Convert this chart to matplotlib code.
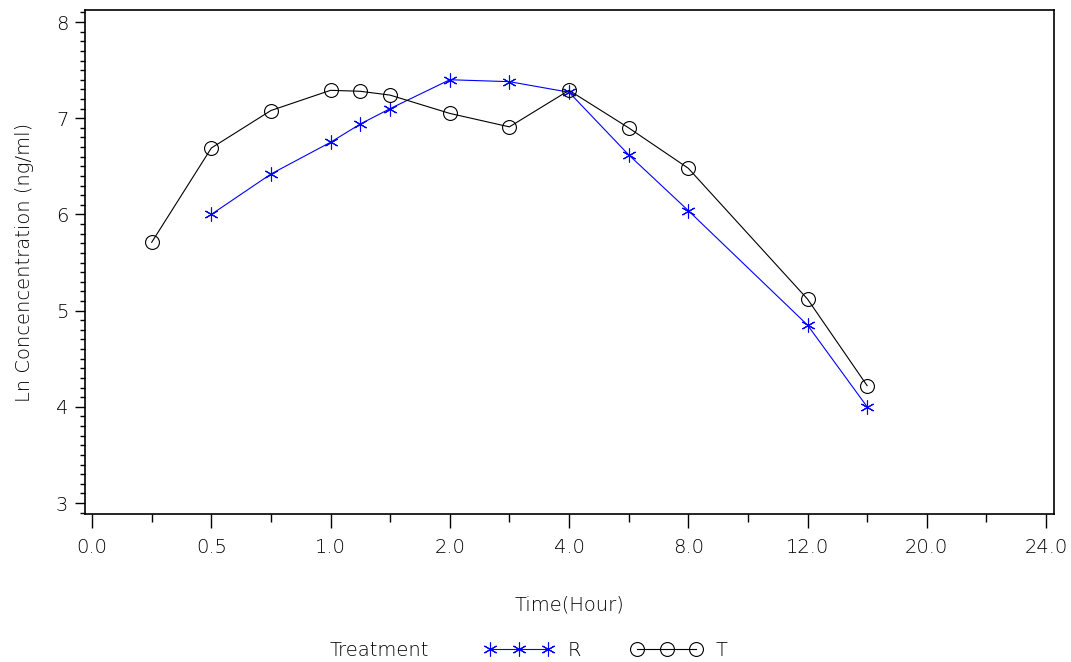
import numpy as np
import matplotlib
matplotlib.use('Agg')
import matplotlib.pyplot as plt
from matplotlib.lines import Line2D

# tempos de coleta (horas) e Ln da concentracao
tempo_t = [0.25, 0.5, 0.75, 1.0, 1.25, 1.5, 2.0, 3.0, 4.0, 6.0, 8.0, 12.0, 16.0]
conc_t = [5.71, 6.69, 7.08, 7.29, 7.28, 7.24, 7.05, 6.91, 7.29, 6.90, 6.48, 5.12, 4.22]

tempo_r = [0.5, 0.75, 1.0, 1.25, 1.5, 2.0, 3.0, 4.0, 6.0, 8.0, 12.0, 16.0]
conc_r = [6.00, 6.42, 6.75, 6.94, 7.10, 7.40, 7.38, 7.27, 6.62, 6.04, 4.85, 4.00]

ticks_x = [0.0, 0.5, 1.0, 2.0, 4.0, 8.0, 12.0, 20.0, 24.0]
ticks_x_menor = [0.25, 0.75, 1.5, 3.0, 6.0, 10.0, 16.0, 22.0]

plt.rcParams['font.family'] = ['DejaVu Sans']
plt.rcParams['font.weight'] = 'light'
plt.rcParams['axes.labelweight'] = 'light'
plt.rcParams['text.color'] = 'black'

pos_ticks = np.arange(len(ticks_x), dtype=float)


def para_pos(t):
    t = np.asarray(t, dtype=float)
    p = np.interp(t, ticks_x, pos_ticks)
    p = np.where(t < ticks_x[0], (t - ticks_x[0]) / (ticks_x[1] - ticks_x[0]), p)
    p = np.where(t > ticks_x[-1], pos_ticks[-1] + (t - ticks_x[-1]) / (ticks_x[-1] - ticks_x[-2]), p)
    return p


def para_tempo(p):
    p = np.asarray(p, dtype=float)
    t = np.interp(p, pos_ticks, ticks_x)
    t = np.where(p < 0, ticks_x[0] + p * (ticks_x[1] - ticks_x[0]), t)
    t = np.where(p > pos_ticks[-1], ticks_x[-1] + (p - pos_ticks[-1]) * (ticks_x[-1] - ticks_x[-2]), t)
    return t


fig = plt.figure(figsize=(10.71, 6.62), dpi=100)
ax = fig.add_axes([0.0794, 0.2236, 0.9047, 0.7613])
ax.set_xscale('function', functions=(para_pos, para_tempo))

estilo_r = dict(color='#0000ff', lw=0.8, marker=(6, 2, 0), ms=10, mew=0.8)
estilo_t = dict(color='black', lw=0.8, marker='o', ms=10, mfc='none', mew=0.8)

ax.plot(tempo_r, conc_r, **estilo_r)
ax.plot(tempo_t, conc_t, **estilo_t)

ax.set_xlim(para_tempo(-0.059), para_tempo(8.067))
ax.set_ylim(2.886, 8.125)

ax.set_xticks(ticks_x)
ax.set_xticklabels(['%.1f' % v for v in ticks_x])
ax.set_xticks(ticks_x_menor, minor=True)
ax.set_yticks([3, 4, 5, 6, 7, 8])
ax.set_yticks(np.arange(2.9, 8.11, 0.1), minor=True)

ax.tick_params(axis='x', which='major', direction='out', length=10, width=1, pad=7,
               labelsize=14, labelcolor='black')
ax.tick_params(axis='x', which='minor', direction='out', length=6, width=1)
ax.tick_params(axis='y', which='major', direction='out', length=7, width=1, pad=5,
               labelsize=14, labelcolor='black')
ax.tick_params(axis='y', which='minor', direction='out', length=3.5, width=1)
for sp in ax.spines.values():
    sp.set_linewidth(1.2)

ax.set_xlabel('Time(Hour)', fontsize=14, labelpad=28)
ax.set_ylabel('Ln Concencentration (ng/ml)', fontsize=14, labelpad=16)

handles = [Line2D([], [], **estilo_r), Line2D([], [], **estilo_t)]
fig.legend(handles, ['R', 'T'], loc='center left', bbox_to_anchor=(0.4445, 0.018),
           ncol=2, numpoints=3, frameon=False, fontsize=14, handlelength=3.6,
           handletextpad=0.7, columnspacing=2.6, borderaxespad=0)
fig.text(0.308, 0.018, 'Treatment', fontsize=14, va='center', ha='left')

fig.savefig('out.png', dpi=100)
